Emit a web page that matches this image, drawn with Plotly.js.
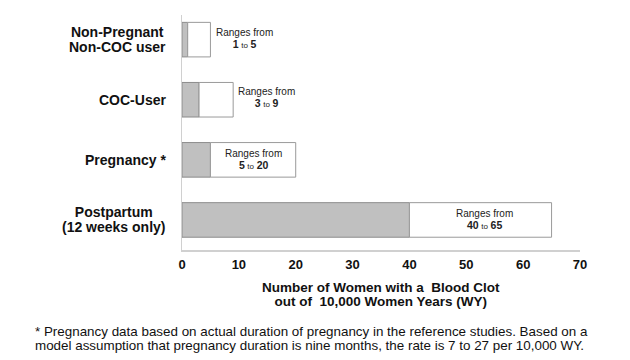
<!DOCTYPE html>
<html><head><meta charset="utf-8">
<script src="https://cdn.plot.ly/plotly-3.0.1.min.js"></script>
<style>body{margin:0;background:#fff}#chart{width:630px;height:360px}</style>
</head><body><div id="chart"></div>
<script>
const categories = ["Non-Pregnant<br>Non-COC user", "COC-User", "Pregnancy *", "Postpartum<br>(12 weeks only)"];
const lowValues = [1, 3, 5, 40];
const highValues = [5, 9, 20, 65];
const xTicks = [0, 10, 20, 30, 40, 50, 60, 70];
const xTitle = "Number of Women with a  Blood Clot<br>out of  10,000 Women Years (WY)";
const footnote = "* Pregnancy data based on actual duration of pregnancy in the reference studies. Based on a<br>model assumption that pregnancy duration is nine months, the rate is 7 to 27 per 10,000 WY.";

const yIdx = categories.map((c, i) => i);
const grayTrace = {
  type: 'bar', orientation: 'h', y: yIdx, x: lowValues, base: 0, width: 0.575,
  marker: {color: '#c0c0c0', line: {color: '#8c8c8c', width: 1}}, hoverinfo: 'none'
};
const whiteTrace = {
  type: 'bar', orientation: 'h', y: yIdx, x: highValues.map((h, i) => h - lowValues[i]), base: lowValues, width: 0.575,
  marker: {color: '#ffffff', line: {color: '#9a9a9a', width: 1}}, hoverinfo: 'none'
};

const font = "Liberation Sans, Arial, sans-serif";
const sp = (px, s) => '<span style="font-size:' + px + 'px">' + s + '</span>';
const annotations = [];
categories.forEach((c, i) => {
  // range labels
  const inside = (highValues[i] - lowValues[i]) >= 10;
  const xpos = inside ? (lowValues[i] + highValues[i]) / 2 : highValues[i];
  const xanchor = inside ? 'center' : 'left';
  const shift = inside ? (i === 3 ? 4 : 0) : (i === 0 ? 4 : 3);
  const ysh = i === 1 ? 2 : (i === 0 ? 1 : 0);
  annotations.push({x: xpos, y: i, xref: 'x', yref: 'y', xanchor: xanchor, yanchor: 'middle', xshift: shift, yshift: ysh,
    text: sp(10, 'Ranges from') + '<br>' + sp(10.5, '<b>' + lowValues[i] + '</b>') + ' ' + sp(8, 'to') + ' ' + sp(10.5, '<b>' + highValues[i] + '</b>'),
    showarrow: false, align: 'center', font: {family: font, size: 9.4, color: '#222'}});
  // category labels
  annotations.push({x: 0, y: i, xref: 'paper', yref: 'y', xanchor: 'right', yanchor: 'middle', xshift: -14,
    text: c.split('<br>').map(s => sp(14, '<b>' + s + '</b>')).join('<br>'),
    showarrow: false, align: 'center', font: {family: font, size: 11.5, color: '#111'}});
});
annotations.push({x: 0.5, y: -0.19, xref: 'paper', yref: 'paper', xanchor: 'center', yanchor: 'middle',
  text: xTitle.split('<br>').map(s => sp(13.5, '<b>' + s + '</b>')).join('<br>'),
  showarrow: false, align: 'center', font: {family: font, size: 10.8, color: '#111'}});
annotations.push({x: -0.374, y: -0.375, xref: 'paper', yref: 'paper', xanchor: 'left', yanchor: 'middle',
  text: footnote.split('<br>').map(s => sp(13.4, s)).join('<br>'),
  showarrow: false, align: 'left', font: {family: font, size: 10.8, color: '#111'}});

const layout = {
  width: 630, height: 360,
  margin: {l: 182, r: 50, t: 15, b: 110},
  paper_bgcolor: '#fff', plot_bgcolor: '#fff',
  barmode: 'overlay', showlegend: false,
  xaxis: {
    range: [0, 70], tickvals: xTicks, ticktext: xTicks.map(String),
    showgrid: false, zeroline: false, showline: true, linecolor: '#d0d0d0', linewidth: 1.5,
    ticks: '', tickfont: {family: font, size: 13, weight: 'bold', color: '#111'}, ticklabelstandoff: 2
  },
  yaxis: {
    range: [3.5, -0.41], tickvals: yIdx, showticklabels: false,
    showgrid: false, zeroline: false, showline: true, linecolor: '#d0d0d0', linewidth: 1.5, ticks: ''
  },
  annotations: annotations
};
Plotly.newPlot('chart', [grayTrace, whiteTrace], layout, {displayModeBar: false, staticPlot: true});
</script></body></html>
